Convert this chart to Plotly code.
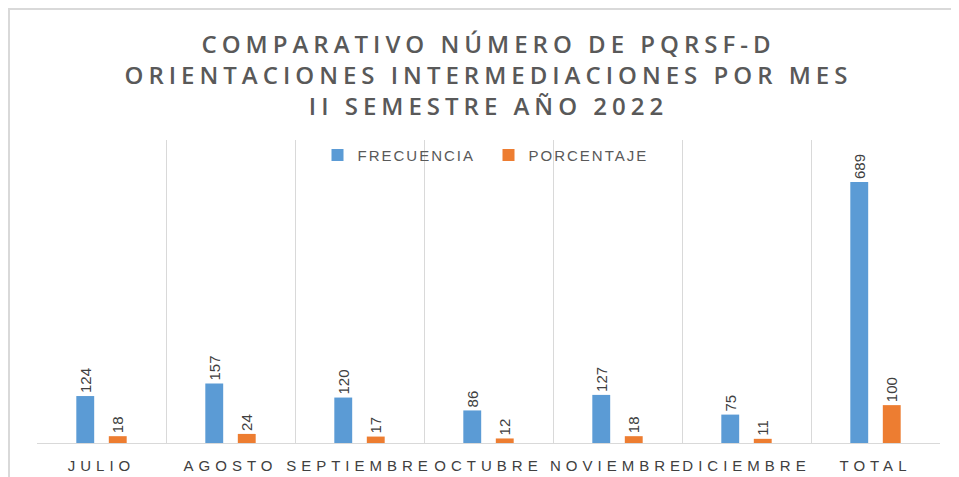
import plotly.graph_objects as go

categories = ["JULIO", "AGOSTO", "SEPTIEMBRE", "OCTUBRE", "NOVIEMBRE", "DICIEMBRE", "TOTAL"]
frecuencia = [124, 157, 120, 86, 127, 75, 689]
porcentaje = [18, 24, 17, 12, 18, 11, 100]

BLUE = "#5B9BD5"
ORANGE = "#ED7D31"
GRID = "#D9D9D9"
LABEL_FONT = dict(family="Liberation Sans", size=15, color="#404040")

fig = go.Figure()
fig.add_trace(go.Bar(
    x=categories, y=frecuencia, name="FRECUENCIA",
    marker=dict(color=BLUE, line=dict(width=0)),
    text=[str(v) for v in frecuencia], textposition="outside", textangle=-90,
    textfont=LABEL_FONT, cliponaxis=False,
))
fig.add_trace(go.Bar(
    x=categories, y=porcentaje, name="PORCENTAJE",
    marker=dict(color=ORANGE, line=dict(width=0)),
    text=[str(v) for v in porcentaje], textposition="outside", textangle=-90,
    textfont=LABEL_FONT, cliponaxis=False,
))

# page body has an 8px margin, so the figure is sized/offset to compensate
fig.update_layout(
    width=951, height=469,
    margin=dict(l=29, r=19, t=132, b=34, autoexpand=False),
    paper_bgcolor="white", plot_bgcolor="white",
    barmode="group", bargap=0.496, bargroupgap=0.45,
    title=dict(
        text="COMPARATIVO NÚMERO DE PQRSF-D<br>ORIENTACIONES INTERMEDIACIONES POR MES<br>II SEMESTRE AÑO 2022",
        x=0.5, xanchor="center", xref="paper", yref="container", y=0.905, yanchor="top",
        font=dict(family="Open Sans", size=24, color="#595959", weight=600),
    ),
    legend=dict(
        orientation="h", x=0.5, xanchor="center", y=0.95, yanchor="middle",
        font=dict(family="Liberation Sans", size=15, color="#595959"),
        bgcolor="rgba(0,0,0,0)", entrywidth=126, entrywidthmode="pixels",
    ),
    showlegend=True,
    uniformtext=dict(minsize=15, mode="show"),
    xaxis=dict(
        type="category", tickson="boundaries", showgrid=True, gridcolor=GRID, gridwidth=1,
        showline=True, linecolor=GRID, linewidth=1, ticks="", ticklabelstandoff=9,
        automargin=False,
        tickfont=dict(family="Liberation Sans", size=15, color="#404040"),
    ),
    yaxis=dict(range=[0, 800], showgrid=False, showticklabels=False, zeroline=False,
               showline=False, automargin=False),
    shapes=[dict(
        type="rect", xref="paper", yref="paper",
        x0=-0.031, x1=1.2, y0=-0.5, y1=1.432,
        line=dict(color=GRID, width=2), fillcolor="rgba(0,0,0,0)", layer="below",
    )],
)

post = """
(function(){
  function ls(){
    var gd = document.getElementById('{plot_id}');
    if(!gd) return;
    gd.querySelectorAll('.gtitle').forEach(function(t){ t.style.letterSpacing='5px'; });
    gd.querySelectorAll('.xtick text').forEach(function(t){ t.style.letterSpacing='5px'; });
    gd.querySelectorAll('.legendtext').forEach(function(t){ t.style.letterSpacing='2px'; });
  }
  ls(); setTimeout(ls, 0); setTimeout(ls, 200);
})();
"""

fig.write_html("out.html", post_script=post)
